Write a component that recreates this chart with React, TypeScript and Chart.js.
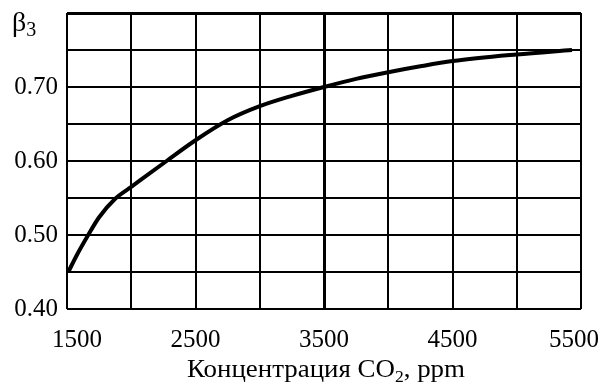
import React, { useEffect, useRef } from "react";
import { Chart, registerables } from "chart.js";

Chart.register(...registerables);

// CO2 concentration, ppm
const concentration = [1510, 1580, 1665, 1750, 1875, 2000, 2275, 2500, 2750, 3000, 3250, 3500, 3750, 4000, 4250, 4500, 5000, 5430];
// β3 coefficient
const beta3 = [0.45, 0.474, 0.5, 0.524, 0.549, 0.565, 0.6, 0.628, 0.655, 0.674, 0.688, 0.7, 0.711, 0.72, 0.728, 0.735, 0.744, 0.75];

const xLabels = ["1500", "2500", "3500", "4500", "5500"];
const yLabels = ["0.40", "0.50", "0.60", "0.70"];
const xTitleParts = ["Концентрация CO", "2", ", ppm"];
const yTitleParts = ["β", "3"];

const SERIF = '"Liberation Serif", "Times New Roman", serif';

// Nudges the outermost x tick labels inward, away from the corners.
const edgeLabelPlugin = {
  id: "edgeLabels",
  beforeDraw(chart: any) {
    const scale = chart.scales.x;
    if (!scale || typeof scale.getLabelItems !== "function") return;
    const items = scale.getLabelItems(chart.chartArea);
    for (const item of items) {
      const t = item.options && item.options.translation;
      if (!t) continue;
      if (item.label === xLabels[0]) t[0] += 10;
      if (item.label === xLabels[xLabels.length - 1]) t[0] -= 7;
    }
  },
};

// Axis captions with real subscripts.
const captionPlugin = {
  id: "captions",
  afterDraw(chart: any) {
    const ctx = chart.ctx;
    const area = chart.chartArea;
    ctx.save();
    ctx.fillStyle = "#000";
    ctx.textBaseline = "alphabetic";
    ctx.textAlign = "left";

    // β3 above the y axis
    ctx.font = `28px ${SERIF}`;
    ctx.fillText(yTitleParts[0], 12, 31);
    const bw = ctx.measureText(yTitleParts[0]).width;
    ctx.font = `20px ${SERIF}`;
    ctx.fillText(yTitleParts[1], 12 + bw, 36);

    // x axis caption, slightly widened
    const big = `26px ${SERIF}`;
    const small = `17px ${SERIF}`;
    ctx.font = big;
    const w0 = ctx.measureText(xTitleParts[0]).width;
    const w2 = ctx.measureText(xTitleParts[2]).width;
    ctx.font = small;
    const w1 = ctx.measureText(xTitleParts[1]).width;
    const total = w0 + w1 + w2;
    const targetWidth = 278;
    const sx = targetWidth / total;
    const cx = (area.left + area.right) / 2 + 2;
    const base = 377;
    ctx.translate(cx - targetWidth / 2, base);
    ctx.scale(sx, 1);
    let x = 0;
    ctx.font = big;
    ctx.fillText(xTitleParts[0], x, 0);
    x += w0;
    ctx.font = small;
    ctx.fillText(xTitleParts[1], x, 5);
    x += w1;
    ctx.font = big;
    ctx.fillText(xTitleParts[2], x, 0);
    ctx.restore();
  },
};

export default function App() {
  const canvasRef = useRef<HTMLCanvasElement | null>(null);

  useEffect(() => {
    const canvas = canvasRef.current;
    if (!canvas) return;
    const points = concentration.map((c, i) => ({ x: c, y: beta3[i] }));

    const chart = new Chart(canvas, {
      type: "line",
      data: {
        datasets: [
          {
            data: points,
            borderColor: "#000",
            borderWidth: 4,
            pointRadius: 0,
            cubicInterpolationMode: "monotone",
            fill: false,
          },
        ],
      },
      options: {
        responsive: false,
        animation: false,
        devicePixelRatio: 1,
        layout: { padding: { left: 0, right: 23, top: 13, bottom: 0 } },
        plugins: {
          legend: { display: false },
          tooltip: { enabled: false },
        },
        scales: {
          x: {
            type: "linear",
            min: 1500,
            max: 5500,
            afterFit(scale: any) {
              scale.height = 76;
              scale.paddingLeft = 0;
              scale.paddingRight = 0;
            },
            border: { display: false },
            grid: {
              color: "#000",
              drawTicks: false,
              lineWidth: (c: any) => (c.tick && c.tick.value === 3500 ? 3 : 2),
            },
            ticks: {
              stepSize: 500,
              padding: 16,
              maxRotation: 0,
              autoSkip: false,
              color: "#000",
              font: { family: SERIF, size: 25 },
              callback: (v: any) => {
                const s = String(Math.round(Number(v)));
                return xLabels.includes(s) ? s : "";
              },
            },
          },
          y: {
            min: 0.4,
            max: 0.8,
            afterFit(scale: any) {
              scale.width = 67;
              scale.paddingTop = 0;
              scale.paddingBottom = 0;
            },
            border: { display: false },
            grid: {
              color: "#000",
              drawTicks: false,
              lineWidth: (c: any) => (c.tick && Math.abs(c.tick.value - 0.8) < 1e-6 ? 3 : 2),
            },
            ticks: {
              stepSize: 0.05,
              padding: 9,
              autoSkip: false,
              color: "#000",
              font: { family: SERIF, size: 25 },
              callback: (v: any) => {
                const s = Number(v).toFixed(2);
                return yLabels.includes(s) ? s : "";
              },
            },
          },
        },
      },
      plugins: [edgeLabelPlugin, captionPlugin],
    } as any);

    return () => chart.destroy();
  }, []);

  return (
    <div style={{ position: "fixed", left: 0, top: 0, width: 604, height: 385, background: "#fff" }}>
      <canvas ref={canvasRef} width={604} height={385} style={{ display: "block" }} />
    </div>
  );
}
